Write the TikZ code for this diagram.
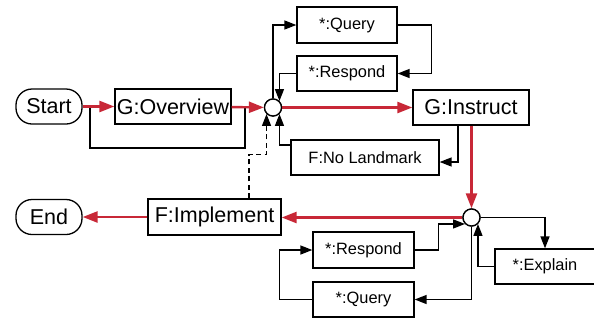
\documentclass[tikz,border=0pt]{standalone}
\usepackage{fontspec}
\setmainfont{Liberation Sans}
\usetikzlibrary{arrows.meta,calc}
\definecolor{flowred}{RGB}{200,40,55}
\begin{document}
\begin{tikzpicture}[x=1pt,y=-1pt,
  box/.style={draw,line width=1.3pt,inner sep=0pt,fill=white},
  bigbox/.style={box,font=\fontsize{21.5}{24}\selectfont},
  smallbox/.style={box,font=\fontsize{16.4}{19}\selectfont},
  term/.style={bigbox,rounded corners=16pt,minimum width=66pt,minimum height=35pt},
  junc/.style={draw,circle,line width=1.3pt,minimum size=17pt,inner sep=0pt,fill=white},
  arr/.style={line width=1.4pt,-{Triangle[length=12pt,width=9pt]}},
  redarr/.style={line width=2.4pt,draw=flowred,-{Triangle[length=15pt,width=11pt,fill=flowred]}}]
\useasboundingbox (0,0) rectangle (594,322);

\node[term] (start) at (49,106.5) {Start};
\node[bigbox,minimum width=116pt,minimum height=35pt] (ov) at (173,106.5) {G:Overview};
\node[junc] (c1) at (273,107.5) {};
\node[smallbox,minimum width=100pt,minimum height=36pt] (q1) at (347,25) {*:Query};
\node[smallbox,minimum width=100pt,minimum height=35pt] (r1) at (347,73.5) {*:Respond};
\node[bigbox,minimum width=116pt,minimum height=35pt] (ins) at (471,107.5) {G:Instruct};
\node[smallbox,minimum width=148pt,minimum height=35pt] (nl) at (365,157.5) {F:No Landmark};
\node[junc] (c2) at (471.5,217.5) {};
\node[bigbox,minimum width=133pt,minimum height=36pt] (imp) at (214.5,217) {F:Implement};
\node[term] (end) at (49,217) {End};
\node[smallbox,minimum width=101pt,minimum height=36pt] (r2) at (363.5,250) {*:Respond};
\node[smallbox,minimum width=101pt,minimum height=35pt] (q2) at (363.5,299.5) {*:Query};
\node[smallbox,minimum width=100pt,minimum height=35pt] (ex) at (545,266.5) {*:Explain};

\coordinate (b1) at (90,106.5);
\coordinate (b2) at (245,106.5);

% black connectors
\draw[line width=1.4pt] (b1) -- ++(0,41.5) -| (b2);
\draw[arr] (c1.north) |- (q1.west);
\draw[arr] (q1.east) -- ++(34,0) |- (r1.east);
\draw[arr] (r1.west) -| (c1.north east);
\draw[arr] ([xshift=-13pt]ins.south) |- ([yshift=-4.5pt]nl.east);
\draw[arr] ([yshift=12.5pt]nl.west) -| (c1.south east);
\draw[arr,dash pattern=on 5pt off 3.5pt] ([xshift=34.5pt]imp.north) -- ++(0,-44) -| (c1.south west);
\draw[arr] (c2.east) -| (ex.north);
\draw[arr] (ex.west) -| (c2.south east);
\draw[arr] (c2.south) |- (q2.east);
\draw[arr] (q2.west) -- ++(-33,0) |- (r2.west);
\draw[arr] (r2.east) -- ++(24,0) |- (c2.south west);

% red main flow
\draw[redarr] (start) -- (ov);
\draw[redarr] (ov) -- (c1);
\draw[redarr] (c1.east) -- (c1.east -| ins.west);
\draw[redarr] (ins.south -| c2.north) -- (c2.north);
\draw[redarr] (c2.west) -- (c2.west -| imp.east);
\draw[redarr] (imp) -- (end);

% redraw junctions on top
\node[junc] at (c1) {};
\node[junc] at (c2) {};
\end{tikzpicture}
\end{document}
